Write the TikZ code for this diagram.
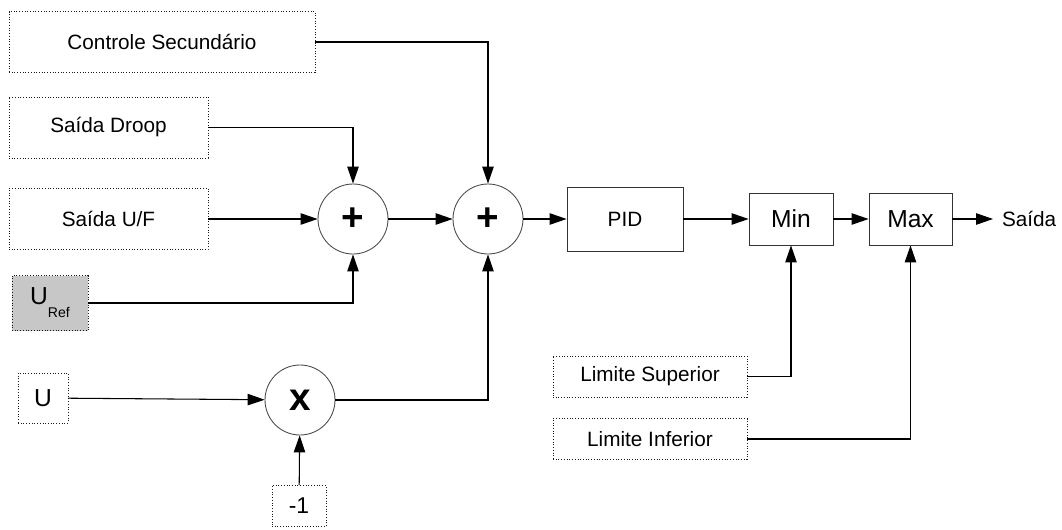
\documentclass[tikz,border=0pt]{standalone}
\usepackage{fontspec}
\setmainfont{Liberation Sans}
\usetikzlibrary{arrows.meta}

\begin{document}
\begin{tikzpicture}[>={Triangle[length=3.4mm,width=2.3mm]},line width=.6pt,
 every node/.style={font=\fontsize{11.8}{14}\selectfont,inner sep=0pt},
 src/.style={draw=black!90,densely dotted,line width=.55pt},
 blk/.style={draw=black!80,line width=.5pt},
 sum/.style={circle,draw=black!70,line width=.5pt,minimum size=1.4cm,font=\fontsize{22}{24}\selectfont\bfseries}]
\newcommand{\BDedge}[3]{\draw[->,#3] (#1) #2;}
\useasboundingbox (0,0) rectangle (21.24,10.58);
% entradas
\node[src,minimum width=6.12cm,minimum height=1.22cm] (In-ctrl) at (3.24,9.74) {Controle Secundário};
\node[src,minimum width=3.98cm,minimum height=1.22cm] (In-droop) at (2.17,8.03) {Saída Droop};
\node[src,minimum width=3.98cm,minimum height=1.22cm] (In-uf) at (2.17,6.2) {Saída U/F};
\node[src,fill=black!22,minimum width=1.52cm,minimum height=1.1cm] (In-uref) at (1.0,4.52) {\fontsize{14}{16}\selectfont U\raisebox{-1ex}{\fontsize{8}{9}\selectfont Ref}};
\node[src,minimum width=1cm,minimum height=1cm,font=\fontsize{14}{16}\selectfont] (In-u) at (.86,2.62) {U};
\node[src,minimum width=1.08cm,minimum height=.82cm,font=\fontsize{13}{15}\selectfont] (In-m1) at (5.98,.46) {-1};
% somadores e blocos
\node[sum] (Op-mult) at (6,2.58) {x};
\node[sum] (Op-s1) at (7.06,6.2) {+};
\node[sum] (Op-s2) at (9.76,6.2) {+};
\node[blk,minimum width=2.32cm,minimum height=1.28cm] (Bl-pid) at (12.5,6.2) {PID};
\node[blk,minimum width=1.68cm,minimum height=1.04cm,font=\fontsize{14}{16}\selectfont] (Bl-min) at (15.82,6.2) {Min};
\node[blk,minimum width=1.66cm,minimum height=1.04cm,font=\fontsize{14}{16}\selectfont] (Bl-max) at (18.21,6.2) {Max};
\node[anchor=west,inner xsep=.17cm] (Out) at (19.86,6.2) {Saída};
\node[src,minimum width=3.88cm,minimum height=.82cm] (Lim-sup) at (13,3.05) {Limite Superior};
\node[src,minimum width=3.88cm,minimum height=.82cm] (Lim-inf) at (13,1.8) {Limite Inferior};
% ligacoes
\BDedge{In-ctrl}{-| (Op-s2)}{}
\BDedge{In-droop}{-| (Op-s1)}{}
\BDedge{In-uf}{-- (Op-s1)}{}
\BDedge{In-uref}{-| (Op-s1)}{}
\BDedge{In-u}{-- (Op-mult)}{}
\BDedge{In-m1}{-- (Op-mult)}{}
\BDedge{Op-mult}{-| (Op-s2)}{}
\BDedge{Op-s1}{-- (Op-s2)}{}
\BDedge{Op-s2}{-- (Bl-pid)}{}
\BDedge{Bl-pid}{-- (Bl-min)}{}
\BDedge{Bl-min}{-- (Bl-max)}{}
\BDedge{Bl-max}{-- (Out)}{}
\BDedge{Lim-sup}{-| (Bl-min)}{}
\BDedge{Lim-inf}{-| (Bl-max)}{}
\end{tikzpicture}
\end{document}
